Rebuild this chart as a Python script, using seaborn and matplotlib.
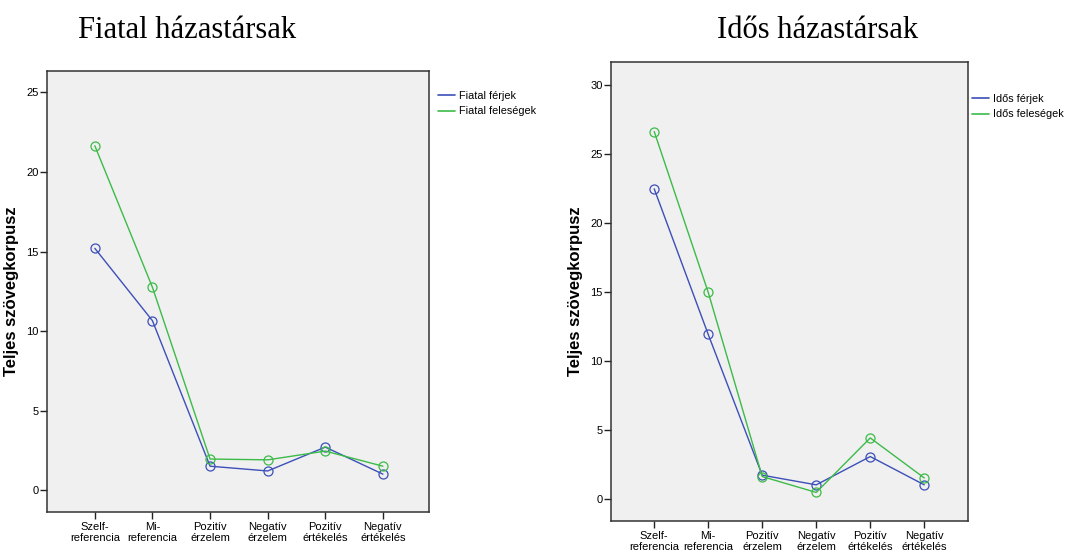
import numpy as np
import pandas as pd
import matplotlib
matplotlib.use("Agg")
import matplotlib.pyplot as plt
import seaborn as sns
from matplotlib.lines import Line2D

# Kategóriák és értékek (leolvasva az ábráról)
kategoriak = ["Szelf-\nreferencia", "Mi-\nreferencia", "Pozitív\nérzelem",
              "Negatív\nérzelem", "Pozitív\nértékelés", "Negatív\nértékelés"]

fiatal_ferjek = [15.2, 10.65, 1.5, 1.2, 2.7, 1.0]
fiatal_felesegek = [21.65, 12.75, 1.95, 1.9, 2.45, 1.5]

idos_ferjek = [22.45, 11.9, 1.7, 1.0, 3.05, 1.0]
idos_felesegek = [26.6, 14.95, 1.6, 0.45, 4.4, 1.5]

KEK = "#3D4FB8"
ZOLD = "#3CBB48"

sns.set_style("white")
plt.rcParams["font.family"] = ["Liberation Sans", "DejaVu Sans"]
plt.rcParams["text.color"] = "black"
plt.rcParams["axes.labelcolor"] = "black"
plt.rcParams["xtick.color"] = "black"
plt.rcParams["ytick.color"] = "black"


def panel(fig, rect, ferjek, felesegek, nevek, ylim, xlim, yticks, leg_pos,
          title, title_x, ylab_x):
    df = pd.DataFrame({
        "kategoria": kategoriak * 2,
        "ertek": ferjek + felesegek,
        "csoport": [nevek[0]] * len(kategoriak) + [nevek[1]] * len(kategoriak),
    })
    ax = fig.add_axes(rect)
    sns.lineplot(data=df, x="kategoria", y="ertek", hue="csoport",
                 palette=[KEK, ZOLD], marker="o", markersize=6.5,
                 markerfacecolor="none", linewidth=1.0, legend=False,
                 sort=False, ax=ax)
    for ln in ax.lines:
        ln.set_markeredgecolor(ln.get_color())
        ln.set_markeredgewidth(0.9)
    ax.set_facecolor("#F0F0F0")
    ax.set_xlim(*xlim)
    ax.set_ylim(*ylim)
    ax.set_yticks(yticks)
    ax.set_xlabel("")
    ax.set_ylabel("Teljes szövegkorpusz", fontsize=12, fontweight="bold")
    ax.yaxis.set_label_coords(ylab_x, 0.5)
    for sp in ax.spines.values():
        sp.set_visible(True)
        sp.set_color("#333333")
        sp.set_linewidth(1.1)
    ax.tick_params(axis="both", which="both", direction="out", length=5,
                   width=1, color="#222222", labelsize=8, pad=1,
                   left=True, bottom=True)
    ax.tick_params(axis="x", pad=2)
    for lab in ax.get_xticklabels():
        lab.set_linespacing(1.15)
    kezek = [Line2D([], [], color=KEK, lw=1.2), Line2D([], [], color=ZOLD, lw=1.2)]
    fig.legend(kezek, nevek, loc="upper left", bbox_to_anchor=leg_pos,
               frameon=False, fontsize=7.8, handlelength=1.6,
               handletextpad=0.3, labelspacing=0.5, borderaxespad=0, borderpad=0)
    fig.text(title_x, 1 - 30 / 555, title, ha="center", va="center",
             fontsize=22, family=["Liberation Serif", "DejaVu Serif"])
    return ax


fig = plt.figure(figsize=(10.66, 5.55), dpi=100)

panel(fig, [47 / 1066, 43 / 555, 382 / 1066, 441 / 555],
      fiatal_ferjek, fiatal_felesegek, ["Fiatal férjek", "Fiatal feleségek"],
      (-1.38, 26.35), (-0.83, 5.8), [0, 5, 10, 15, 20, 25],
      (438 / 1066, 1 - 91 / 555), "Fiatal házastársak", 187 / 1066, -0.072)

panel(fig, [611 / 1066, 34 / 555, 357 / 1066, 459 / 555],
      idos_ferjek, idos_felesegek, ["Idős férjek", "Idős feleségek"],
      (-1.62, 31.64), (-0.8, 5.81), [0, 5, 10, 15, 20, 25, 30],
      (972 / 1066, 1 - 94 / 555), "Idős házastársak", 818 / 1066, -0.078)

fig.savefig("out.png", dpi=100)
